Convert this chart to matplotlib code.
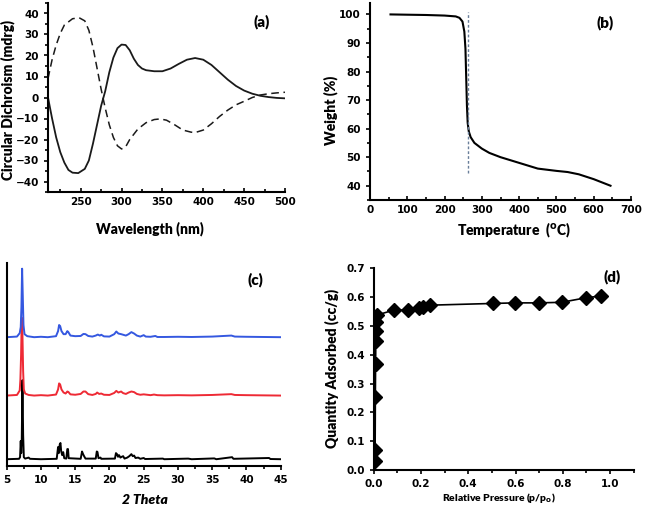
import matplotlib.pyplot as plt
from matplotlib.ticker import MultipleLocator

plt.rcParams['font.family'] = ['Lato', 'DejaVu Sans']
plt.rcParams['font.weight'] = 'bold'

# (a) CD spectra
cd_wl = [210, 215, 220, 225, 230, 235, 240, 247, 255, 260, 265, 270, 275, 280, 285, 290,
         295, 300, 305, 310, 315, 320, 325, 330, 340, 350, 360, 370, 380, 390, 400, 410,
         420, 430, 440, 450, 460, 470, 480, 490, 500]
cd_solid = [0, -10, -19, -26, -31, -34.5, -35.8, -36, -34, -30, -22, -13, -4, 3, 12, 19,
            23.5, 25.2, 25, 22.5, 18.5, 15.5, 13.8, 13, 12.5, 12.5, 13.8, 16, 18, 18.8, 18, 15.5,
            12, 8.5, 5.5, 3.3, 1.8, 0.8, 0.2, -0.2, -0.4]
cd_wl2 = [210, 215, 220, 225, 230, 240, 248, 255, 260, 265, 270, 275, 280, 285, 290, 295,
          300, 305, 310, 320, 330, 340, 347, 355, 365, 375, 385, 390, 400, 410, 420, 430,
          440, 450, 460, 470, 480, 490, 500]
cd_dash = [9, 18, 25, 30.5, 34.5, 37.5, 38, 36.5, 32, 24, 14, 4, -5, -13, -19, -23,
           -24.5, -23.5, -20, -15, -12, -10.5, -10.2, -10.8, -13, -15.5, -16.5, -16.7, -15.5, -12.5, -9, -6,
           -3.5, -1.8, 0, 1.2, 1.8, 2.2, 2.5]

# (b) TGA
tga_t = [55, 100, 150, 200, 230, 240, 248, 253, 256, 258, 260, 262, 265, 270, 280, 300,
         320, 350, 400, 450, 500, 530, 560, 600, 645]
tga_w = [100, 99.9, 99.8, 99.6, 99.3, 98.8, 97.5, 94, 88, 78, 68, 62, 59, 57, 55, 53,
         51.5, 50, 48, 46, 45.2, 44.8, 44, 42.3, 40]
tga_onset = 263

# (c) PXRD (intensity above each trace's baseline)
blue_x = [5.0, 6.5, 6.9, 7.05, 7.15, 7.25, 7.35, 7.45, 7.6, 8.0, 9, 10, 11, 12.2, 12.5, 12.65,
          12.8, 13.0, 13.3, 13.6, 13.85, 14.0, 14.3, 15, 15.8, 16.2, 16.5, 16.9, 17.5, 18.0, 18.3,
          18.6, 18.8, 19.2, 20, 20.7, 21.0, 21.3, 21.7, 22.0, 22.4, 22.8, 23.2, 23.6, 24, 24.5, 25,
          25.3, 26, 26.7, 27, 28, 30, 32, 35, 37.8, 38.3, 40, 45]
blue_y = [0, 0.3, 2, 5, 15, 33.8, 20, 6, 1.5, 0.5, 0, 0.2, 0, 0.5, 3, 6,
          5.5, 3, 1.5, 1.5, 3, 2.5, 0.8, 0.5, 0.6, 1.6, 1.5, 0.6, 0.3, 0.8, 1.3,
          0.8, 1.2, 0.4, 0.3, 1.5, 2.8, 1.8, 1.5, 1.2, 0.8, 1.5, 2.5, 1.8, 0.8, 0.3, 1,
          0.3, 0.2, 0.6, 0.1, 0.1, 0.2, 0.1, 0.3, 0.8, 0.3, 0.2, 0]
red_x = [5.0, 6.5, 6.9, 7.0, 7.1, 7.2, 7.3, 7.4, 7.5, 7.7, 8.2, 9, 10, 11, 12.2, 12.5, 12.65,
         12.8, 13.0, 13.3, 13.6, 13.85, 14.0, 14.3, 15, 15.8, 16.2, 16.5, 16.9, 17.5, 18.0, 18.2,
         18.5, 18.8, 19.2, 20, 20.7, 21.0, 21.3, 21.7, 22.0, 22.4, 22.8, 23.2, 23.6, 24, 24.5, 25,
         26, 26.5, 27, 28, 30, 32, 35, 37.8, 38.3, 40, 45]
red_y = [0, 0.3, 2.5, 8, 20, 38.4, 30, 12, 3, 1, 0.3, 0, 0.2, 0, 0.5, 3, 6,
         5.5, 3, 1.5, 1, 2, 1.8, 0.6, 0.4, 0.8, 2, 2, 0.7, 0.3, 0.8, 1.5,
         0.8, 1, 0.4, 0.3, 1.3, 2.3, 1.5, 2, 1.2, 0.8, 1.5, 2, 1.7, 0.8, 0.4, 0.6,
         0.2, 0.5, 0.2, 0.1, 0.2, 0.1, 0.3, 0.7, 0.3, 0.2, 0]
black_x = [5, 6.8, 6.95, 7.05, 7.12, 7.2, 7.3, 7.4, 7.5, 7.7, 8.2, 8.4, 10, 12.3, 12.5, 12.6,
           12.75, 12.85, 12.95, 13.1, 13.25, 13.4, 13.7, 13.85, 13.95, 14.05, 15.8, 16.0, 16.15,
           16.3, 16.5, 18.0, 18.15, 18.25, 18.4, 18.7, 18.8, 20.8, 20.95, 21.1, 21.25, 21.4, 21.6,
           21.8, 22.0, 22.2, 22.6, 22.9, 23.2, 23.4, 23.6, 23.8, 24.2, 24.5, 25, 25.2, 27.8, 28,
           31.5, 32, 35.3, 35.6, 37.9, 38.1, 43.3, 43.5, 45]
black_y = [0, 0.2, 1, 9, 3, 10, 39, 12, 1, 0.3, 0.8, 0.2, 0, 0.2, 6, 3,
           7.4, 8, 4, 2, 3.5, 0.5, 0.3, 5, 5, 0.5, 0.2, 3.8, 2.5,
           1.5, 0.3, 0.3, 3.8, 3.6, 0.5, 0.8, 0.2, 0.3, 3, 2.5, 1.2, 2, 0.8,
           1.2, 1.5, 0.3, 0.8, 1.5, 2.5, 1.5, 1.8, 0.6, 0.8, 0.2, 0.6, 0.1, 0.3, 0,
           0.3, 0, 0.4, 0, 1, 0.2, 0.6, 0.1, 0]
base_blue, base_red, base_black = 63.4, 34.6, 3.2

# (d) N2 adsorption
p_rel = [0.005, 0.006, 0.007, 0.008, 0.009, 0.01, 0.011, 0.014, 0.086, 0.143, 0.193, 0.207,
         0.237, 0.503, 0.597, 0.7, 0.795, 0.9, 0.962]
q_ads = [0.032, 0.069, 0.254, 0.368, 0.449, 0.482, 0.515, 0.538, 0.555, 0.555, 0.563, 0.565,
         0.572, 0.578, 0.58, 0.58, 0.582, 0.598, 0.604]

W, H = 645, 509


def box(l, t, r, b):
    # pixel box (left, top, right, bottom) -> figure fraction rect
    return [l / W, 1 - b / H, (r - l) / W, (b - t) / H]


def style(ax):
    ax.spines['top'].set_visible(False)
    ax.spines['right'].set_visible(False)
    for s in ('left', 'bottom'):
        ax.spines[s].set_linewidth(1.5)
    ax.tick_params(labelsize=7.5, width=1.2, length=3, labelfontfamily='DejaVu Sans')
    ax.tick_params(which='minor', width=1.2, length=2.5)


fig = plt.figure(figsize=(W / 100, H / 100), dpi=100)

# ---- (a)
ax = fig.add_axes(box(48, 3, 285, 192))
ax.plot(cd_wl, cd_solid, color='#1a1a1a', lw=1.3)
ax.plot(cd_wl2, cd_dash, color='#1a1a1a', lw=1.1, ls=(0, (5, 3)))
ax.set_xlim(210, 500)
ax.set_ylim(-45, 45)
ax.set_xticks([250, 300, 350, 400, 450, 500])
ax.xaxis.set_minor_locator(MultipleLocator(25))
ax.set_yticks(range(-40, 41, 10))
ax.yaxis.set_minor_locator(MultipleLocator(5))
ax.tick_params(axis='x', which='both', direction='in')
style(ax)
fig.text(262 / W, 1 - 22 / H, '(a)', ha='center', va='center', fontsize=11, fontweight='heavy')
fig.text(8 / W, 1 - 100 / H, 'Circular Dichroism (mdrg)', rotation=90, ha='center', va='center',
         fontsize=10, fontweight='heavy')
fig.text(150 / W, 1 - 229 / H, 'Wavelength (nm)', ha='center', va='center', fontsize=10,
         fontweight='heavy')

# ---- (b)
ax = fig.add_axes(box(370, 3, 631, 200))
ax.plot(tga_t, tga_w, color='black', lw=1.5)
ax.plot([tga_onset, tga_onset], [44.5, 101], color='#6a7f9a', lw=1, ls=(0, (2, 1.5)))
ax.set_xlim(0, 700)
ax.set_ylim(35, 104)
ax.set_xticks(range(0, 701, 100))
ax.xaxis.set_minor_locator(MultipleLocator(50))
ax.set_yticks(range(40, 101, 10))
ax.yaxis.set_minor_locator(MultipleLocator(5))
ax.tick_params(axis='x', which='both', direction='in')
style(ax)
fig.text(605 / W, 1 - 23 / H, '(b)', ha='center', va='center', fontsize=11, fontweight='heavy')
fig.text(331 / W, 1 - 110 / H, 'Weight (%)', rotation=90, ha='center', va='center',
         fontsize=10, fontweight='heavy')
fig.text(514 / W, 1 - 230 / H, 'Temperature  ($\\mathbf{^{o}}$C)', ha='center', va='center',
         fontsize=10, fontweight='heavy')

# ---- (c)
ax = fig.add_axes(box(6.7, 263, 280.7, 465.7))
ax.plot(black_x, [base_black + v for v in black_y], color='black', lw=1.4)
ax.plot(red_x, [base_red + v for v in red_y], color='#ee2a35', lw=1.4)
ax.plot(blue_x, [base_blue + v for v in blue_y], color='#3558e0', lw=1.4)
ax.set_xlim(5, 45)
ax.set_ylim(0, 100)
ax.set_xticks(range(5, 46, 5))
ax.xaxis.set_minor_locator(MultipleLocator(2.5))
ax.set_yticks([])
style(ax)
fig.text(255 / W, 1 - 280 / H, '(c)', ha='center', va='center', fontsize=11, fontweight='heavy')
fig.text(145 / W, 1 - 500 / H, '2 Theta', ha='center', va='center', fontsize=10,
         fontweight='heavy', style='italic')

# ---- (d)
ax = fig.add_axes(box(373.7, 268.3, 633.7, 470))
ax.plot(p_rel, q_ads, color='black', lw=1.2, marker='D', markersize=7)
ax.set_xlim(0, 1.1)
ax.set_ylim(0, 0.7)
ax.set_xticks([0, 0.2, 0.4, 0.6, 0.8, 1.0])
ax.xaxis.set_minor_locator(MultipleLocator(0.1))
ax.set_yticks([i / 10 for i in range(8)])
ax.xaxis.set_major_formatter(plt.FormatStrFormatter('%.1f'))
ax.yaxis.set_major_formatter(plt.FormatStrFormatter('%.1f'))
style(ax)
fig.text(612 / W, 1 - 277 / H, '(d)', ha='center', va='center', fontsize=11, fontweight='heavy')
fig.text(332 / W, 1 - 368 / H, 'Quantity Adsorbed (cc/g)', rotation=90, ha='center',
         va='center', fontsize=10, fontweight='heavy')
fig.text(499 / W, 1 - 498 / H, 'Relative Pressure (p/p$_\\mathbf{o}$)', ha='center',
         va='center', fontsize=7.5, fontweight='heavy')

fig.savefig('out.png', dpi=100)
